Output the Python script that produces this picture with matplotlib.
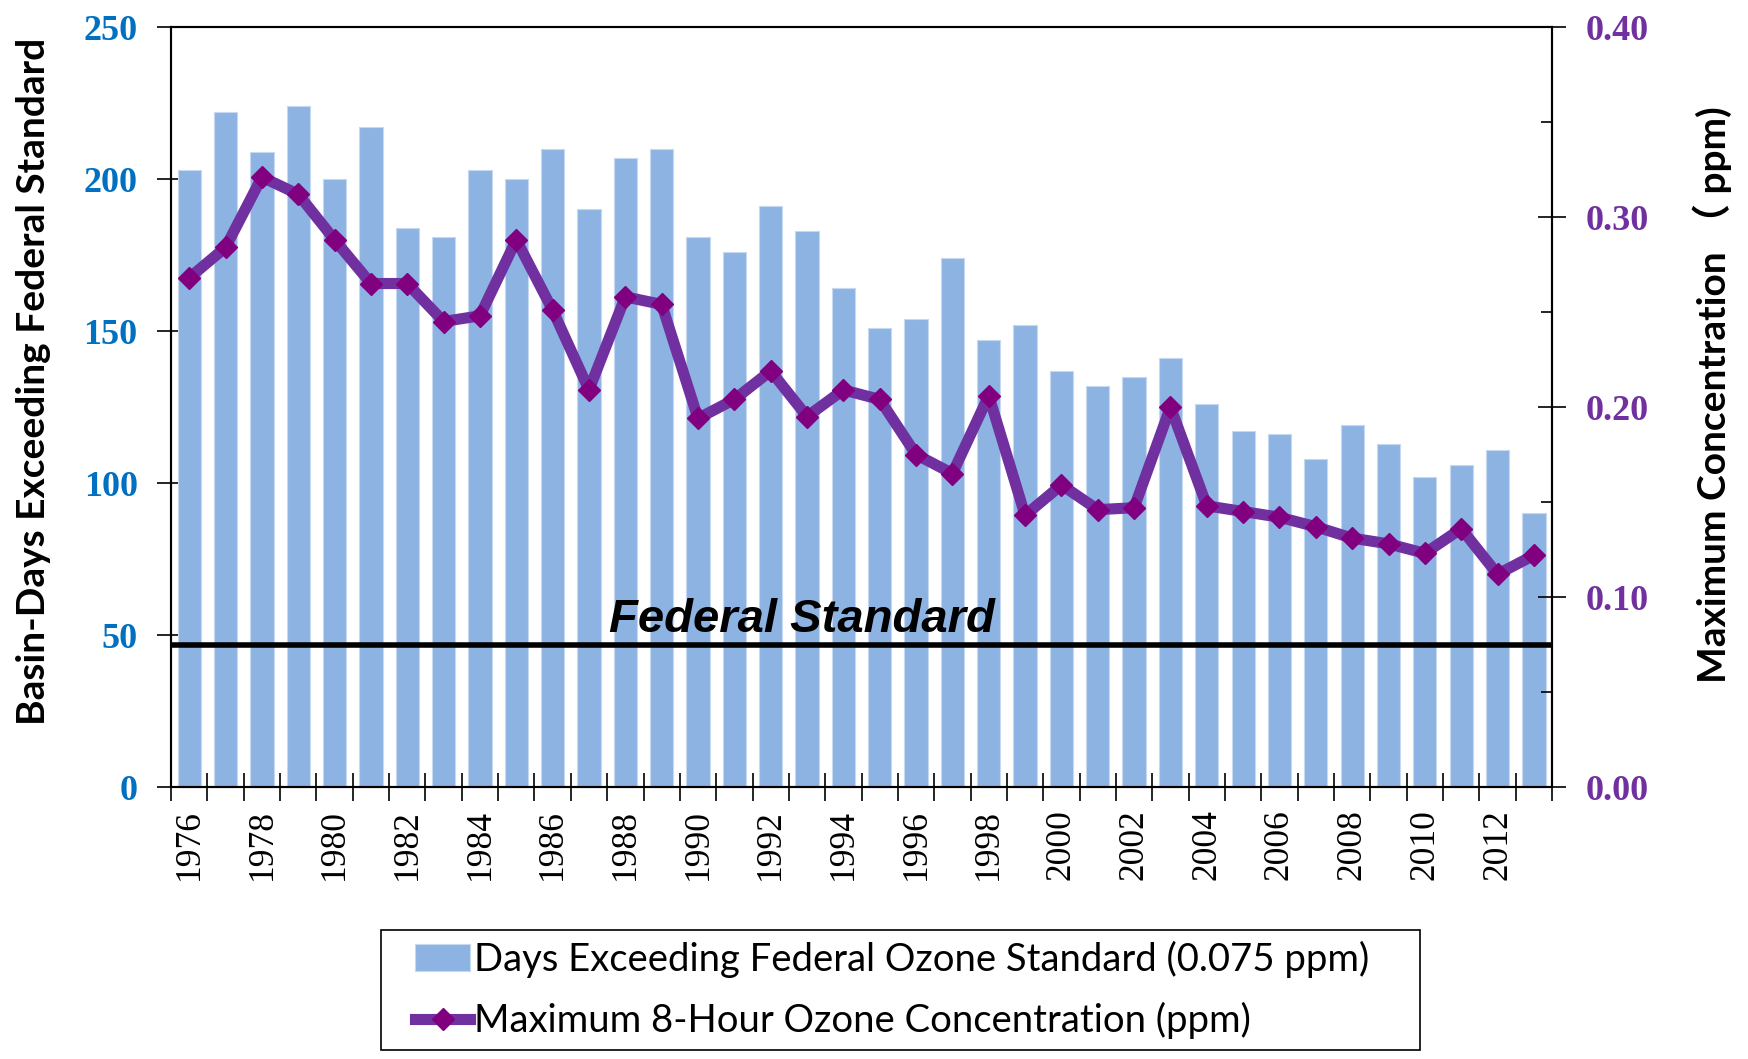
import matplotlib.pyplot as plt
from matplotlib.patches import Rectangle
from matplotlib.ticker import MultipleLocator, FixedLocator, NullFormatter

years = list(range(1976, 2014))
days_exceeding = [203, 222, 209, 224, 200, 217, 184, 181, 203, 200,
                  210, 190, 207, 210, 181, 176, 191, 183, 164, 151,
                  154, 174, 147, 152, 137, 132, 135, 141, 126, 117,
                  116, 108, 119, 113, 102, 106, 111, 90]
max_conc = [0.268, 0.284, 0.321, 0.312, 0.288, 0.265, 0.265, 0.245, 0.248, 0.288,
            0.251, 0.209, 0.258, 0.254, 0.194, 0.204, 0.219, 0.195, 0.209, 0.204,
            0.175, 0.165, 0.206, 0.143, 0.159, 0.146, 0.147, 0.200, 0.148, 0.145,
            0.142, 0.137, 0.131, 0.128, 0.123, 0.136, 0.112, 0.122]
federal_std = 0.075
year_labels = [str(y) if (y - 1976) % 2 == 0 else "" for y in years]

bar_color = "#8DB3E2"
line_color = "#7030A0"
marker_color = "#800080"
blue = "#0070C0"

fig = plt.figure(figsize=(17.49, 10.59), dpi=100)
ax = fig.add_axes([0.0978, 0.2568, 0.7896, 0.7177])
ax2 = ax.twinx()

x = list(range(len(years)))
bars = ax.bar(x, days_exceeding, width=0.64, color=bar_color,
              edgecolor="#C6D9F1", linewidth=0.8, zorder=2,
              label="Days Exceeding Federal Ozone Standard (0.075 ppm)")
line, = ax2.plot(x, max_conc, color=line_color, linewidth=8, marker="D",
                 markersize=11, markerfacecolor=marker_color,
                 markeredgecolor=marker_color, zorder=3,
                 label="Maximum 8-Hour Ozone Concentration (ppm)")
ax2.axhline(federal_std, color="black", linewidth=4, zorder=4)
ax2.text(16.85, 0.0815, "Federal Standard", fontsize=34, fontweight="bold",
         fontstyle="italic", family="Liberation Sans", ha="center",
         va="baseline", zorder=5)

ax.set_xlim(-0.5, len(years) - 0.5)
ax.set_ylim(0, 250)
ax2.set_ylim(0, 0.40)

# x axis: ticks on category boundaries, labels centered
ax.xaxis.set_major_locator(FixedLocator([i - 0.5 for i in range(len(years) + 1)]))
ax.xaxis.set_major_formatter(NullFormatter())
ax.xaxis.set_minor_locator(FixedLocator(x))
ax.set_xticklabels(year_labels, minor=True)
ax.tick_params(axis="x", which="major", direction="inout", length=20, width=1.2)
ax.tick_params(axis="x", which="minor", length=0, pad=16, labelrotation=90,
               labelsize=25.5)
for lbl in ax.get_xticklabels(minor=True):
    lbl.set_family("Liberation Serif")

ax.yaxis.set_major_locator(MultipleLocator(50))
ax.tick_params(axis="y", direction="inout", length=20, width=1.2, pad=14,
               labelsize=26, labelcolor=blue)
for lbl in ax.get_yticklabels():
    lbl.set_family("Liberation Serif")
    lbl.set_fontweight("bold")

ax2.yaxis.set_major_locator(MultipleLocator(0.10))
ax2.yaxis.set_minor_locator(MultipleLocator(0.05))
ax2.yaxis.set_major_formatter(plt.FormatStrFormatter("%.2f"))
ax2.tick_params(axis="y", which="major", direction="inout", length=20,
                width=1.2, pad=14, labelsize=26, labelcolor=line_color)
ax2.tick_params(axis="y", which="minor", direction="in", length=8, width=1.2)
for lbl in ax2.get_yticklabels():
    lbl.set_family("Liberation Serif")
    lbl.set_fontweight("bold")

for a in (ax, ax2):
    for s in a.spines.values():
        s.set_linewidth(1.5)
        s.set_color("black")
ax.spines["left"].set_color("#333333")

fig.text(0.019, 0.64, "Basin-Days Exceeding Federal Standard", rotation=90,
         fontsize=28, fontweight="bold", family="Lato", ha="center", va="center")
fig.text(0.979, 0.627, "Maximum Concentration （ ppm)", rotation=90,
         fontsize=28, fontweight="bold",
         family=["Lato", "Noto Sans CJK SC"], ha="center", va="center")

# legend box drawn separately so the handles can sit inset from the frame
fig.patches.append(Rectangle((0.2181, 0.0084), 0.5938, 0.1138,
                             transform=fig.transFigure, facecolor="white",
                             edgecolor="black", linewidth=1.2, zorder=0))
leg = fig.legend(handles=[bars, line], loc="center left",
                 bbox_to_anchor=(0.2372, 0.0652), frameon=False,
                 borderpad=0, borderaxespad=0,
                 prop={"family": "Lato", "size": 27.5},
                 handlelength=1.45, handletextpad=0.1, labelspacing=0.63)

fig.savefig("out.png", dpi=100)
